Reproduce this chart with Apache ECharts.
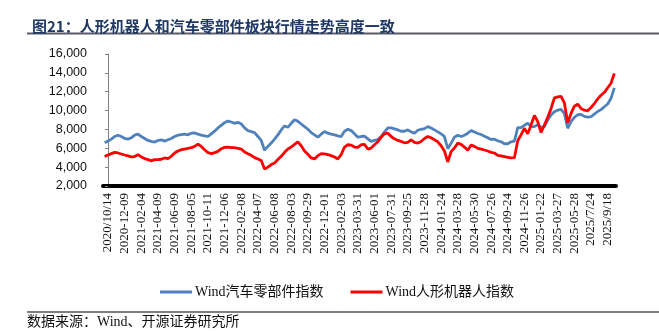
<!DOCTYPE html>
<html><head><meta charset="utf-8">
<script src="https://cdn.jsdelivr.net/npm/echarts@6/dist/echarts.min.js"></script>
<style>html,body{margin:0;padding:0;background:#fff}#c{width:659px;height:331px}</style>
</head><body><div id="c"></div>
<script>
const tickLabels = ['2020/10/14','2020-12-09','2021-02-04','2021-04-09','2021-06-09','2021-08-05','2021-10-11','2021-12-06','2022-02-08','2022-04-07','2022-06-08','2022-08-03','2022-09-29','2022-12-01','2023-02-03','2023-03-31','2023-06-01','2023-07-31','2023-09-25','2023-11-28','2024-01-24','2024-03-28','2024-05-30','2024-07-26','2024-09-24','2024-11-26','2025-01-22','2025-03-27','2025-05-28','2025/7/24','2025/9/18'];
// one sample every fifth of a label interval, first sample one step before the first label
const firstIndex = -1;
const autoParts = [6585,6760,6970,7250,7390,7250,7040,6970,7110,7390,7495,7250,7040,6830,6724,6654,6830,6900,6760,6900,7040,7250,7390,7460,7495,7423,7598,7633,7495,7390,7320,7250,7530,7810,8160,8440,8720,8890,8790,8648,8752,8578,8158,7878,7773,7668,7249,6830,5800,6200,6550,6970,7423,7948,8368,8228,8648,9030,8857,8578,8298,8018,7668,7423,7180,7495,7773,7598,7495,7423,7320,7249,7810,8018,7878,7530,7180,7249,7285,7005,6724,6830,6935,7249,7738,8158,8158,8053,7948,7808,7808,7948,7738,7598,7913,8018,8088,8298,8158,7948,7738,7530,7249,5950,6550,7180,7390,7249,7390,7598,7878,7738,7565,7460,7285,7110,6935,6970,6794,6690,6480,6480,6690,6750,8200,8193,8438,8648,8298,8298,8508,8228,8298,8997,9522,9872,10046,10116,9697,8123,8822,9277,9557,9592,9382,9312,9347,9627,9900,10100,10400,10700,11300,12400];
const robot = [5120,5290,5430,5570,5501,5396,5290,5186,5080,5120,5326,5080,4906,4801,4661,4801,4801,4836,4976,4906,5151,5501,5711,5850,5920,5990,6060,6200,6445,6200,5850,5536,5430,5536,5676,5955,6095,6130,6060,6060,5990,5920,5606,5430,5256,5011,4871,4696,3800,4000,4277,4452,4801,5151,5570,5920,6130,6410,6690,6270,5711,5361,4976,4871,5221,5430,5396,5326,5221,5080,4871,5326,6130,6375,6340,6130,6095,6375,6410,5920,6025,6375,6690,7180,7530,7598,7249,7005,6830,6724,6585,6620,6900,6620,6550,6724,7040,7249,7110,6900,6690,6270,5711,4550,5650,6025,6550,6410,6130,5780,6340,6200,5990,5920,5815,5711,5570,5500,5256,5186,5116,5046,4976,5000,6800,7424,8123,7528,8473,9487,8822,7668,8473,9277,10222,11340,11445,11515,10815,8717,9697,10466,10676,10222,10046,9977,10326,10745,11235,11620,11935,12424,12900,13950];
const seriesNames = ['Wind汽车零部件指数','Wind人形机器人指数'];
const titleText = '图21：人形机器人和汽车零部件板块行情走势高度一致';
const sourceText = '数据来源：Wind、开源证券研究所';

const serifCJK = '"Liberation Serif", "Times New Roman", "Noto Sans CJK SC"';
const toPairs = arr => arr.map((v, i) => [i + firstIndex, v]);

const chart = echarts.init(document.getElementById('c'), null, {renderer: 'canvas'});
chart.setOption({
  animation: false,
  backgroundColor: '#fff',
  title: {
    text: titleText, left: 27, top: 12,
    textStyle: {fontFamily: '"Noto Sans CJK SC"', fontSize: 15, fontWeight: 'bold', color: '#1F3864', lineHeight: 18}
  },
  graphic: [
    {type: 'rect', shape: {x: 27, y: 32.5, width: 632, height: 2}, style: {fill: '#5b5b6b'}},
    {type: 'rect', shape: {x: 27, y: 311.5, width: 632, height: 1}, style: {fill: '#000'}},
    {type: 'text', left: 27, top: 315, style: {text: sourceText, font: '14px ' + serifCJK, fill: '#111'}}
  ],
  legend: {
    left: 155, top: 279, icon: 'rect', itemWidth: 32, itemHeight: 3, itemGap: 27,
    textStyle: {fontFamily: serifCJK, fontSize: 14, color: '#111', lineHeight: 16, padding: [0,0,0,-2]},
    data: seriesNames
  },
  grid: {left: 103, right: 43, top: 54, bottom: 145, containLabel: false},
  xAxis: {
    type: 'value', min: -1.5, max: 152.5,
    axisLine: {show: true, onZero: false, lineStyle: {color: '#000', width: 4}},
    axisTick: {show: false},
    splitLine: {show: false},
    axisLabel: {
      customValues: tickLabels.map((_, i) => i * 5),
      formatter: v => tickLabels[Math.round(v / 5)] || '',
      rotate: 90, margin: 7, fontFamily: serifCJK, fontSize: 13, color: '#111'
    }
  },
  yAxis: {
    type: 'value', min: 2000, max: 16000, interval: 2000,
    axisLine: {show: true, lineStyle: {color: '#808080', width: 1}},
    axisTick: {show: true, length: 3, inside: false, lineStyle: {color: '#808080'}},
    splitLine: {show: false},
    axisLabel: {margin: 16, fontFamily: '"Liberation Sans", Arial', fontSize: 12.5, color: '#111',
      formatter: v => v.toLocaleString('en-US')}
  },
  series: [
    {name: seriesNames[0], type: 'line', data: toPairs(autoParts), showSymbol: false, symbol: 'none',
      lineStyle: {color: '#4F81BD', width: 2.8}, itemStyle: {color: '#4F81BD'}},
    {name: seriesNames[1], type: 'line', data: toPairs(robot), showSymbol: false, symbol: 'none',
      lineStyle: {color: '#FF0000', width: 2.8}, itemStyle: {color: '#FF0000'}}
  ]
});
</script></body></html>
